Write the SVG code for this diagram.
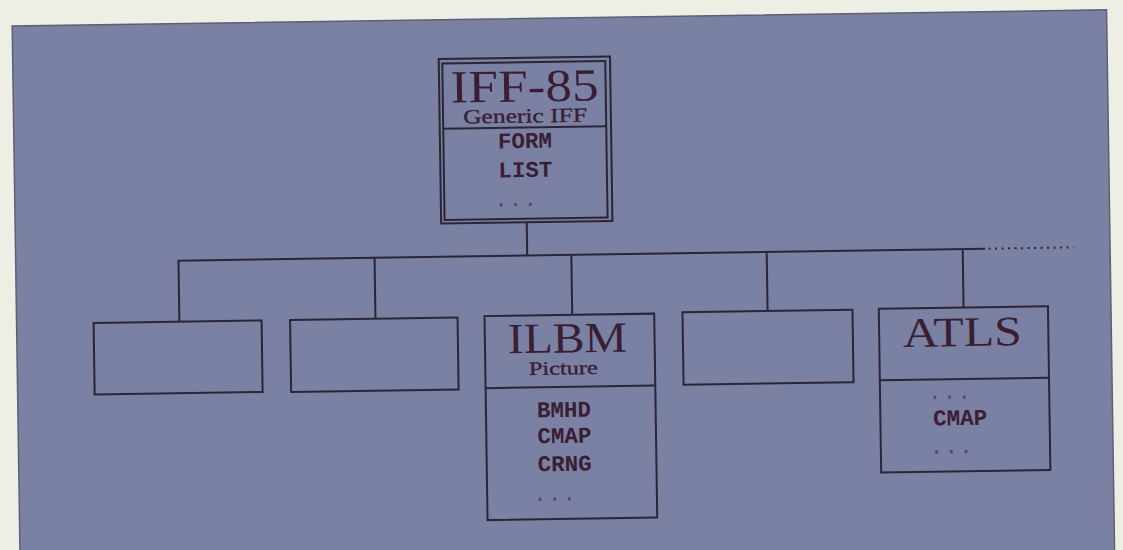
<svg xmlns="http://www.w3.org/2000/svg" width="1123" height="550" viewBox="0 0 1123 550">
<style>
.box{fill:none;stroke:#2c2536;stroke-width:2}
.wire{fill:none;stroke:#2c2536;stroke-width:2}
.dotted{fill:none;stroke:#2c2536;stroke-width:2;stroke-dasharray:2 4.5}
.title{font-family:"Liberation Serif","Times New Roman",serif;fill:#3a1e34;text-anchor:middle}
.sub{font-family:"Liberation Serif","Times New Roman",serif;fill:#3a1e34;text-anchor:middle;stroke:#3a1e34;stroke-width:0.35}
.mono{font-family:"Liberation Mono","Courier New",monospace;font-weight:bold;font-size:22.5px;fill:#3a1e34}
.dots{font-family:"Liberation Mono","Courier New",monospace;font-size:22px;fill:#4d4a66;letter-spacing:1.5px}
</style>
<rect width="1123" height="550" fill="#edefe4"/>
<g transform="rotate(-0.85 561 280)">
<rect id="panel" x="16" y="18" width="1094.5" height="545" fill="#7b81a3" stroke="#5c6075" stroke-width="1.5"/>
<g id="connectors" class="wire">
<line x1="527.6" y1="221.7" x2="527.6" y2="255"/>
<line x1="178" y1="255" x2="985.5" y2="255"/>
<line class="dotted" x1="989" y1="255" x2="1074" y2="255"/>
<line x1="178.8" y1="255" x2="178.8" y2="316"/>
<line x1="374.9" y1="255" x2="374.9" y2="316"/>
<line x1="571.7" y1="255" x2="571.7" y2="315"/>
<line x1="767.1" y1="255" x2="767.1" y2="314"/>
<line x1="963.1" y1="255" x2="963.1" y2="313.5"/>
</g>
<g id="iff85">
<rect class="box" x="442" y="57.3" width="171.3" height="164.4"/>
<rect class="box" x="445.5" y="61.7" width="163" height="156.6"/>
<line class="box" x1="445.5" y1="127" x2="608.5" y2="127"/>
<text class="title" x="527.5" y="101" font-size="46" textLength="148" lengthAdjust="spacingAndGlyphs">IFF-85</text>
<text class="sub" x="527.5" y="122" font-size="20" textLength="124" lengthAdjust="spacingAndGlyphs">Generic IFF</text>
<text class="mono" x="500" y="147.5">FORM</text>
<text class="mono" x="500" y="176.5">LIST</text>
<text class="dots" x="495.5" y="205.5">...</text>
</g>
<g id="box1">
<rect class="box" x="93" y="316" width="168" height="71.5"/>
</g>
<g id="box2">
<rect class="box" x="289.5" y="316" width="167.5" height="72"/>
</g>
<g id="ilbm">
<rect class="box" x="484" y="315" width="169.7" height="204"/>
<line class="box" x1="484" y1="387" x2="653.7" y2="387"/>
<text class="title" x="566.5" y="352.5" font-size="43" textLength="119" lengthAdjust="spacingAndGlyphs">ILBM</text>
<text class="sub" x="562" y="374.5" font-size="19" textLength="69" lengthAdjust="spacingAndGlyphs">Picture</text>
<text class="mono" x="535" y="417">BMHD</text>
<text class="mono" x="535" y="443">CMAP</text>
<text class="mono" x="535" y="471">CRNG</text>
<text class="dots" x="530" y="500.5">...</text>
</g>
<g id="box4">
<rect class="box" x="682" y="314" width="170" height="72.5"/>
</g>
<g id="atls">
<rect class="box" x="878.3" y="313.5" width="169.2" height="163.8"/>
<line class="box" x1="878.3" y1="385" x2="1047.5" y2="385"/>
<text class="title" x="961.5" y="352" font-size="42" textLength="119" lengthAdjust="spacingAndGlyphs">ATLS</text>
<text class="dots" x="926.5" y="404.5">...</text>
<text class="mono" x="931" y="431">CMAP</text>
<text class="dots" x="927.5" y="459">...</text>
</g>
</g>
</svg>
